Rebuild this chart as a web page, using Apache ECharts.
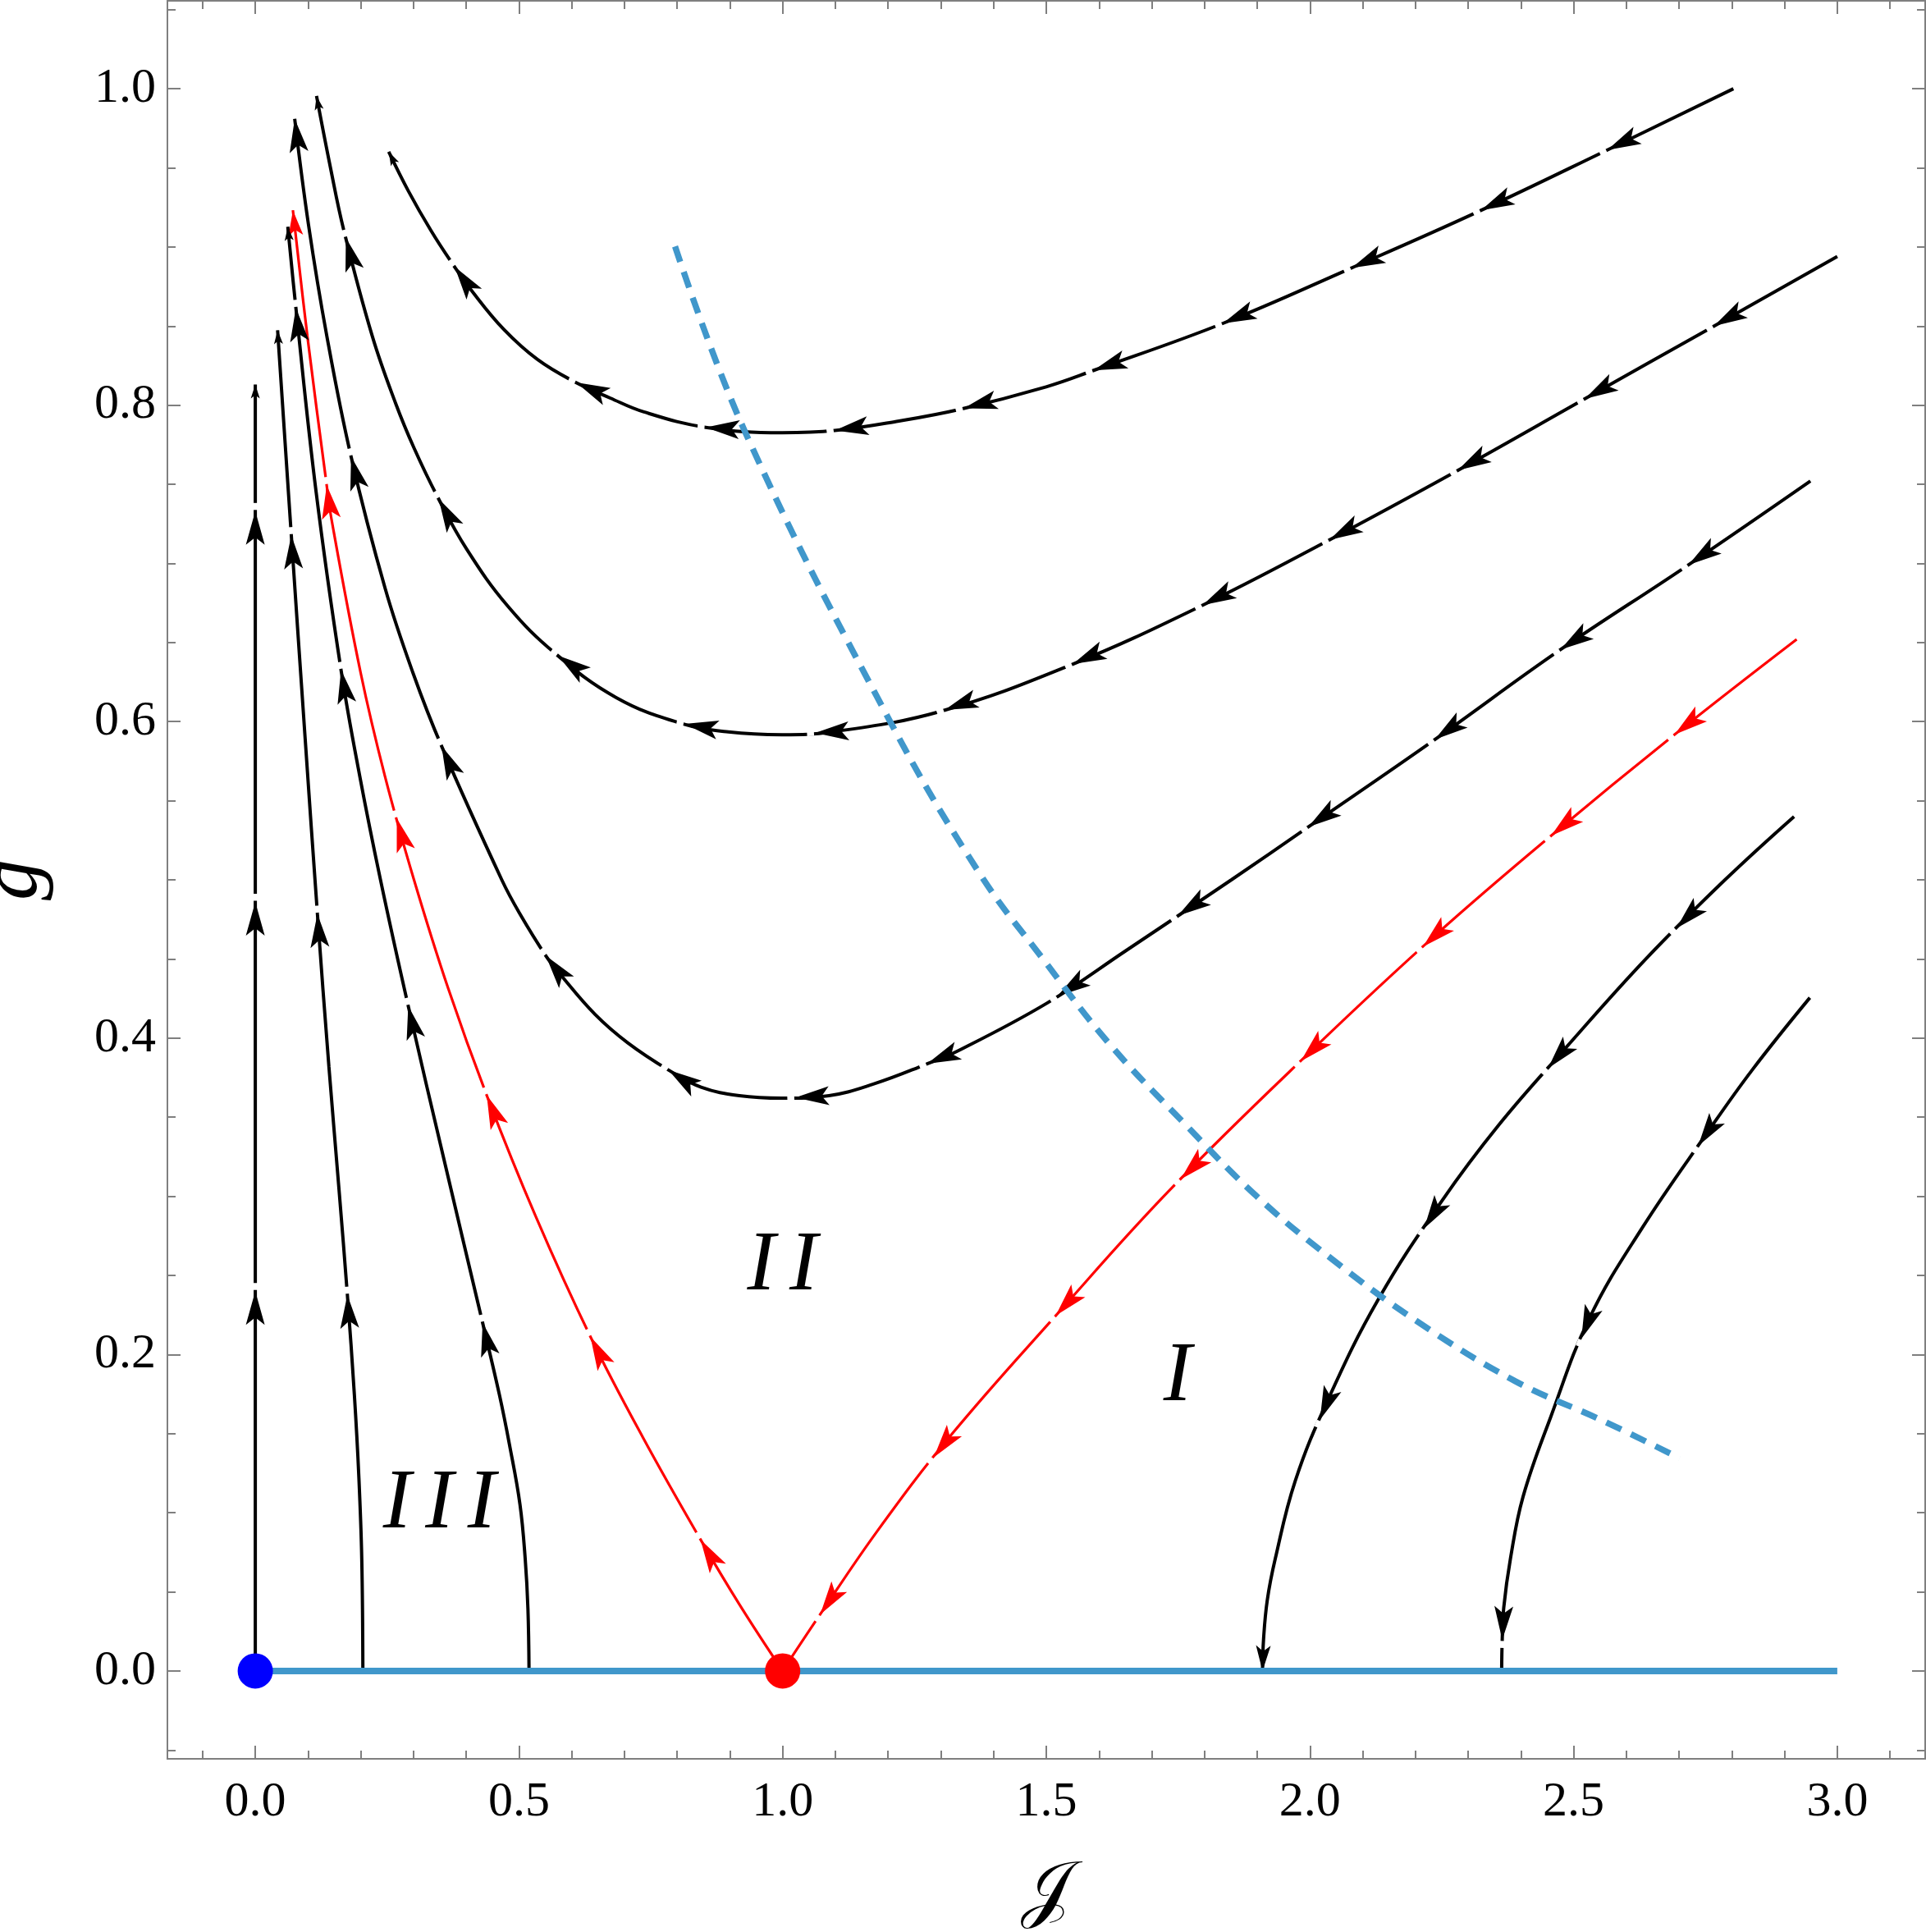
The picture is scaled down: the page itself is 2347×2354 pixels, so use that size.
<!DOCTYPE html>
<html><head><meta charset="utf-8">
<script src="https://cdn.jsdelivr.net/npm/echarts@6/dist/echarts.min.js"></script>
<style>html,body{margin:0;padding:0;background:#fff}#c{width:2347px;height:2354px}</style>
</head><body><div id="c"></div>
<script>
// ---------- axis ranges & ticks ----------
const XMIN = -1/6, XMAX = 3 + 1/6, YMIN = -1/18, YMAX = 1 + 1/18;
const xMajorTicks = [0, 0.5, 1, 1.5, 2, 2.5, 3];
const xMinorTicks = [-0.1,0.1,0.2,0.3,0.4,0.6,0.7,0.8,0.9,1.1,1.2,1.3,1.4,1.6,1.7,1.8,1.9,2.1,2.2,2.3,2.4,2.6,2.7,2.8,2.9,3.1];
const yMajorTicks = [0, 0.2, 0.4, 0.6, 0.8, 1.0];
const yMinorTicks = [-0.05,0.05,0.1,0.15,0.25,0.3,0.35,0.45,0.5,0.55,0.65,0.7,0.75,0.85,0.9,0.95,1.05];

// ---------- flow lines (ordered along the flow) ----------
const curveJ0 = [[0,0],[0,0.813]];
const curveL2 = [[0.204,0],[0.2019,0.0706],[0.1964,0.1225],[0.1879,0.1744],[0.1746,0.2377],[0.1588,0.3041],[0.1396,0.3819],[0.1178,0.4785],[0.0945,0.5895],[0.0683,0.7177],[0.0423,0.8474]];
const curveL3 = [[0.5191,0],[0.5170,0.0394],[0.5119,0.0706],[0.5019,0.1053],[0.4819,0.1432],[0.4630,0.1744],[0.4311,0.2200],[0.3603,0.3197],[0.2900,0.4203],[0.2372,0.5003],[0.1977,0.5662],[0.1626,0.6326],[0.1153,0.7452],[0.0770,0.8614],[0.0616,0.9128]];
const curveRedL = [[1.0,0],[0.919,0.0415],[0.8444,0.0830],[0.7353,0.1474],[0.6356,0.2112],[0.5315,0.2875],[0.4389,0.3638],[0.3654,0.4318],[0.3007,0.5003],[0.2458,0.5656],[0.1997,0.6310],[0.1444,0.7281],[0.1340,0.7530],[0.0987,0.8438],[0.0713,0.9232]];
const curveRedR = [[2.923,0.652],[2.6915,0.5918],[2.4574,0.5279],[2.239,0.4653],[2.0056,0.3929],[1.7346,0.3041],[1.5178,0.2245],[1.3177,0.1484],[1.1808,0.0890],[1.0671,0.0337],[1.0,0]];
const curveU1 = [[2.803,1.0],[2.564,0.9613],[2.319,0.9223],[2.074,0.886],[1.835,0.8517],[1.590,0.822],[1.4998,0.8116],[1.338,0.7975],[1.216,0.7897],[1.099,0.784],[0.999,0.7826],[0.854,0.786],[0.737,0.7957],[0.673,0.8045],[0.604,0.815],[0.535,0.8289],[0.471,0.848],[0.4128,0.8713],[0.370,0.8913],[0.333,0.9104],[0.2904,0.9353],[0.253,0.9602]];
const curveU2 = [[3.0,0.894],[2.761,0.849],[2.521,0.804],[2.276,0.758],[2.032,0.714],[1.793,0.673],[1.548,0.636],[1.301,0.6066],[1.0936,0.5935],[0.999,0.5917],[0.897,0.5935],[0.806,0.599],[0.6844,0.6152],[0.569,0.643],[0.4788,0.673],[0.4009,0.709],[0.3449,0.7425],[0.3013,0.7727],[0.2663,0.801],[0.2219,0.8436],[0.1675,0.911],[0.1426,0.950],[0.1161,0.9954]];
const curveU3 = [[2.949,0.752],[2.713,0.698],[2.473,0.645],[2.234,0.588],[1.995,0.533],[1.851,0.5],[1.65,0.455],[1.501,0.422],[1.333,0.392],[1.269,0.383],[1.173,0.371],[1.088,0.3636],[0.999,0.362],[0.918,0.3636],[0.8453,0.369],[0.7846,0.3796],[0.7063,0.397],[0.6442,0.415],[0.579,0.440],[0.551,0.452],[0.5009,0.479],[0.4674,0.500],[0.3531,0.5846],[0.2988,0.631],[0.2464,0.684],[0.1816,0.7675],[0.1357,0.8436],[0.1007,0.9145],[0.0747,0.981]];
const curveR1 = [[2.918,0.54],[2.787,0.5],[2.637,0.45],[2.483,0.393],[2.358,0.345],[2.25,0.297],[2.13,0.235],[2.035,0.172],[1.972,0.12],[1.934,0.0706],[1.919,0.0446],[1.912,0.02],[1.910,0]];
const curveR2 = [[2.948,0.4255],[2.839,0.38],[2.753,0.34],[2.63,0.28],[2.53,0.223],[2.456,0.16],[2.404,0.11],[2.380,0.0706],[2.3675,0.04],[2.3646,0.0197],[2.3635,0]];

// ---------- boundary curves & fixed points ----------
const dashedBoundary = [[0.796,0.9003],[0.929,0.783],[1.2056,0.599],[1.3755,0.503],[1.4926,0.4505],[1.618,0.397],[1.759,0.347],[1.899,0.300],[2.039,0.261],[2.203,0.221],[2.39,0.183],[2.553,0.1585],[2.701,0.1345]];
const fixedLine = [[0,0],[3,0]];
const blueFixedPoint = [[0,0]];
const redFixedPoint = [[1,0]];

// ---------- arrows: [curve, J, g] ----------
const bigArrows = [
 ['J0',0,0.240],['J0',0,0.486],['J0',0,0.733],
 ['L2',0.1746,0.2377],['L2',0.1178,0.4785],['L2',0.0683,0.7177],
 ['L3',0.4311,0.220],['L3',0.290,0.4203],['L3',0.1626,0.6326],['L3',0.077,0.8614],
 ['RedL',0.8444,0.083],['RedL',0.6356,0.2112],['RedL',0.4389,0.3638],['RedL',0.2851,0.5404],['RedL',0.139,0.7496],
 ['RedR',2.6915,0.5918],['RedR',2.4574,0.5279],['RedR',2.2157,0.4572],['RedR',1.9776,0.3871],['RedR',1.7488,0.3129],['RedR',1.5178,0.2245],['RedR',1.2912,0.1339],['RedR',1.0733,0.0353],
 ['U1',2.564,0.9613],['U1',2.324,0.9234],['U1',2.080,0.886],['U1',1.835,0.8517],['U1',1.590,0.8216],['U1',1.344,0.7975],['U1',1.099,0.784],['U1',0.854,0.785],['U1',0.6074,0.8134],['U1',0.3755,0.8869],
 ['U2',2.766,0.850],['U2',2.521,0.804],['U2',2.280,0.759],['U2',2.037,0.715],['U2',1.796,0.674],['U2',1.551,0.636],['U2',1.307,0.6077],['U2',1.062,0.5917],['U2',0.814,0.598],['U2',0.5745,0.642],['U2',0.351,0.7414],['U2',0.171,0.9057],
 ['U3',2.716,0.700],['U3',2.476,0.645],['U3',2.236,0.589],['U3',1.998,0.533],['U3',1.75,0.477],['U3',1.52,0.427],['U3',1.274,0.384],['U3',1.0245,0.3618],['U3',0.783,0.3796],['U3',0.551,0.452],['U3',0.354,0.5846],['U3',0.1816,0.7675],['U3',0.0747,0.981],
 ['R1',2.69,0.471],['R1',2.455,0.38],['R1',2.215,0.28],['R1',2.01,0.16],
 ['R2',2.735,0.332],['R2',2.515,0.21],['R2',2.3646,0.0197]
];
const midArrows = [['RedL',0.0713,0.9232],['R1',1.910,0]];
const smallArrows = [['J0',0,0.813],['L2',0.0423,0.8474],['L3',0.0616,0.9128],['U2',0.1161,0.9954],['U1',0.253,0.9602]];

// ---------- region labels ----------
const regionNames = ['I\u2006I\u2006I', 'I\u2006I', 'I'];
const regionPos = [[0.349,0.105],[0.9995,0.255],[1.749,0.185]];

// ---------- styles ----------
const BLACK = '#000000', RED = '#ff0000', BLUE = '#4097cb', FRAME = '#7f7f7f';
const SERIF = '"Liberation Serif","Times New Roman",serif';
const flowCurves = [
 {name:'J0', data:curveJ0, color:BLACK},
 {name:'L2', data:curveL2, color:BLACK},
 {name:'L3', data:curveL3, color:BLACK},
 {name:'U1', data:curveU1, color:BLACK},
 {name:'U2', data:curveU2, color:BLACK},
 {name:'U3', data:curveU3, color:BLACK},
 {name:'R1', data:curveR1, color:BLACK},
 {name:'R2', data:curveR2, color:BLACK},
 {name:'RedL', data:curveRedL, color:RED},
 {name:'RedR', data:curveRedR, color:RED}
];
const curveIndex = {};
flowCurves.forEach((c,i) => curveIndex[c.name] = i);

// arrowhead drawn on its stream; 'gap' leaves the small break Mathematica puts after each mid-stream arrow
function arrowSeries(list, L, W, N, gap) {
  return {
    type:'custom', coordinateSystem:'cartesian2d', z:5, silent:true,
    data: list.map(a => [a[1], a[2], curveIndex[a[0]]]),
    encode:{x:0, y:1},
    renderItem: function (params, api) {
      const k = api.value(2);
      const c = flowCurves[k];
      const p0 = api.coord([api.value(0), api.value(1)]);
      let best = Infinity, dir = [1,0], p = p0;
      for (let i = 0; i < c.data.length - 1; i++) {
        const a = api.coord(c.data[i]), b = api.coord(c.data[i+1]);
        const dx = b[0]-a[0], dy = b[1]-a[1];
        const len2 = dx*dx + dy*dy; if (!len2) continue;
        let t = ((p0[0]-a[0])*dx + (p0[1]-a[1])*dy) / len2;
        t = Math.max(0, Math.min(1, t));
        const q = [a[0]+t*dx, a[1]+t*dy];
        const d = (q[0]-p0[0])**2 + (q[1]-p0[1])**2;
        if (d < best) { best = d; const l = Math.sqrt(len2); dir = [dx/l, dy/l]; p = q; }
      }
      const nx = -dir[1], ny = dir[0];
      const bx = p[0]-L*dir[0], by = p[1]-L*dir[1];
      const pts = [[p[0],p[1]],[bx+nx*W/2, by+ny*W/2],[p[0]-(L-N)*dir[0], p[1]-(L-N)*dir[1]],[bx-nx*W/2, by-ny*W/2]];
      const children = [];
      if (gap) {
        children.push({type:'line', shape:{x1:p[0]+dir[0]*1.5, y1:p[1]+dir[1]*1.5, x2:p[0]+dir[0]*gap, y2:p[1]+dir[1]*gap},
          style:{stroke:'#ffffff', lineWidth:7, lineCap:'butt'}});
      }
      children.push({type:'polygon', shape:{points:pts}, style:{fill:c.color}});
      return {type:'group', children:children};
    }
  };
}

const tickStyle = {color:FRAME, width:2};
function xAxisDef(pos, ticks, len, withLabel) {
  return {
    type:'value', min:XMIN, max:XMAX, position:pos,
    axisLine:{show:false, onZero:false}, splitLine:{show:false},
    axisTick:{show:true, inside:true, length:len, customValues:ticks, lineStyle:tickStyle},
    axisLabel: withLabel ? {show:true, customValues:ticks, formatter:v => v.toFixed(1), fontFamily:SERIF, fontSize:60, color:'#000', margin:23} : {show:false}
  };
}
function yAxisDef(pos, ticks, len, withLabel) {
  return {
    type:'value', min:YMIN, max:YMAX, position:pos,
    axisLine:{show:false, onZero:false}, splitLine:{show:false},
    axisTick:{show:true, inside:true, length:len, customValues:ticks, lineStyle:tickStyle},
    axisLabel: withLabel ? {show:true, customValues:ticks, formatter:v => v.toFixed(1), fontFamily:SERIF, fontSize:60, color:'#000', margin:14} : {show:false}
  };
}

const xAxes = [
  Object.assign(xAxisDef('bottom', xMajorTicks, 16, true), {
    name:'\u{1D4A5}', nameLocation:'middle', nameGap:120,
    nameTextStyle:{fontFamily:'"DejaVu Serif","DejaVu Sans","Noto Sans",serif', fontSize:90, color:'#000'}
  }),
  xAxisDef('bottom', xMinorTicks, 10, false),
  xAxisDef('top', xMajorTicks, 16, false),
  xAxisDef('top', xMinorTicks, 10, false)
];
const yAxes = [
  Object.assign(yAxisDef('left', yMajorTicks, 16, true), {
    name:'g', nameLocation:'middle', nameGap:136, nameRotate:90,
    nameTextStyle:{fontFamily:SERIF, fontStyle:'italic', fontSize:100, color:'#000'}
  }),
  yAxisDef('left', yMinorTicks, 10, false),
  yAxisDef('right', yMajorTicks, 16, false),
  yAxisDef('right', yMinorTicks, 10, false)
];

const series = [];
flowCurves.forEach(c => {
  series.push({type:'line', data:c.data, symbol:'none', smooth:0.4, silent:true, z:3,
    lineStyle:{color:c.color, width: c.color === RED ? 3.2 : 4}});
});
series.push(arrowSeries(bigArrows, 41, 23, 9, 10));
series.push(arrowSeries(midArrows, 31, 18, 7, 0));
series.push(arrowSeries(smallArrows, 17, 11, 4, 0));
series.push({type:'line', data:dashedBoundary, symbol:'none', smooth:0.4, silent:true, z:6,
  lineStyle:{color:BLUE, width:7.5, type:[20,13], cap:'butt'}});
series.push({type:'line', data:fixedLine, symbol:'none', silent:true, z:7,
  lineStyle:{color:BLUE, width:8}});
series.push({type:'scatter', data:blueFixedPoint, symbolSize:43, silent:true, z:8, itemStyle:{color:'#0000ff', opacity:1}});
series.push({type:'scatter', data:redFixedPoint, symbolSize:43, silent:true, z:8, itemStyle:{color:'#ff0000', opacity:1}});
series.push({type:'scatter', silent:true, z:9, symbolSize:1, itemStyle:{color:'rgba(255,255,255,0)', opacity:1},
  data: regionPos.map((p,i) => ({value:p, name:regionNames[i]})),
  label:{show:true, position:'inside', formatter:p => p.name, fontFamily:SERIF, fontStyle:'italic', fontSize:103, color:'#000000', opacity:1}});

const chart = echarts.init(document.getElementById('c'), null, {renderer:'canvas'});
chart.setOption({
  animation:false,
  backgroundColor:'#ffffff',
  grid:{left:204, right:1, top:1, bottom:211, containLabel:false, outerBoundsMode:'none', show:true, borderColor:FRAME, borderWidth:2, backgroundColor:'transparent'},
  xAxis:xAxes, yAxis:yAxes, series:series
});
</script></body></html>
